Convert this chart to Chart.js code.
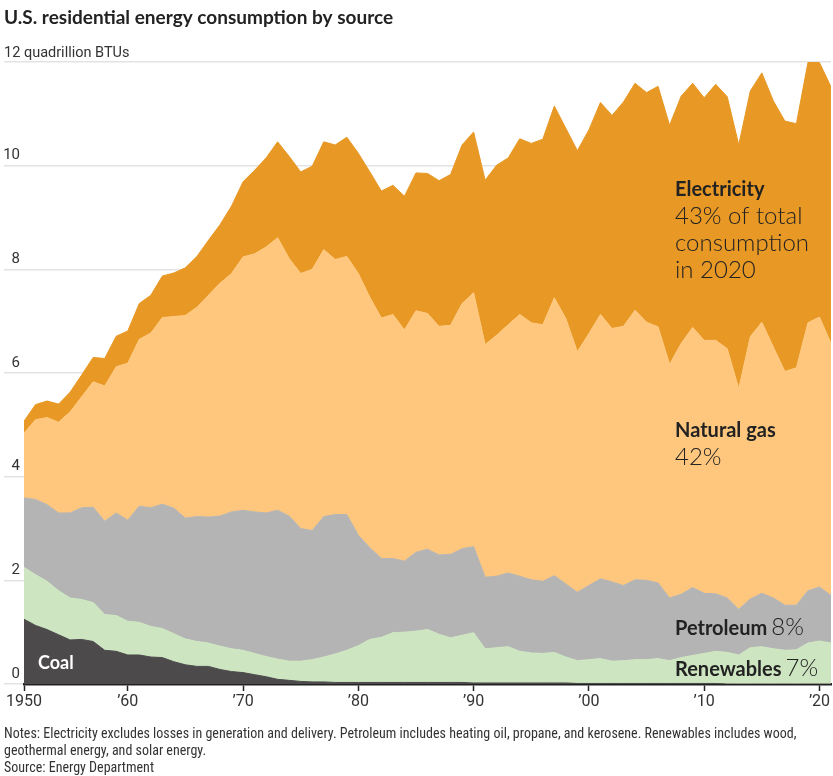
<!DOCTYPE html>
<html>
<head>
<meta charset="utf-8">
<script src="https://cdn.jsdelivr.net/npm/chart.js@4.4.1/dist/chart.umd.min.js"></script>
<style>
  html, body { margin: 0; padding: 0; background: #fff; }
  #box { position: relative; width: 833px; height: 776px; }
</style>
</head>
<body>
<div id="box"><canvas id="graphik" width="833" height="776"></canvas></div>
<script>
// annual values, quadrillion BTUs
const years = [1950,1951,1952,1953,1954,1955,1956,1957,1958,1959,
  1960,1961,1962,1963,1964,1965,1966,1967,1968,1969,
  1970,1971,1972,1973,1974,1975,1976,1977,1978,1979,
  1980,1981,1982,1983,1984,1985,1986,1987,1988,1989,
  1990,1991,1992,1993,1994,1995,1996,1997,1998,1999,
  2000,2001,2002,2003,2004,2005,2006,2007,2008,2009,
  2010,2011,2012,2013,2014,2015,2016,2017,2018,2019,
  2020];
const coal = [1.25,1.13,1.05,0.95,0.85,0.86,0.82,0.65,0.63,0.56,
  0.56,0.52,0.51,0.43,0.37,0.34,0.34,0.28,0.24,0.22,
  0.18,0.14,0.09,0.07,0.05,0.04,0.04,0.03,0.03,0.03,
  0.03,0.03,0.03,0.03,0.03,0.03,0.03,0.03,0.03,0.02,
  0.02,0.02,0.02,0.02,0.02,0.02,0.02,0.02,0.01,0.01,
  0.01,0.01,0.01,0.01,0.01,0.01,0.01,0.01,0.01,0.01,
  0.01,0,0,0,0,0,0,0,0,0,
  0];
const renewables = [1.00,0.98,0.93,0.85,0.81,0.77,0.75,0.69,0.69,0.65,
  0.63,0.59,0.56,0.54,0.50,0.48,0.45,0.45,0.44,0.43,
  0.41,0.39,0.39,0.37,0.39,0.43,0.48,0.55,0.62,0.71,
  0.83,0.87,0.96,0.97,0.99,1.02,0.93,0.86,0.91,0.97,
  0.66,0.68,0.70,0.61,0.58,0.57,0.59,0.50,0.44,0.46,
  0.48,0.43,0.44,0.46,0.46,0.48,0.44,0.50,0.54,0.58,
  0.62,0.61,0.56,0.70,0.72,0.68,0.65,0.66,0.79,0.83,
  0.79];
const petroleum = [1.34,1.45,1.48,1.50,1.64,1.77,1.84,1.80,1.98,1.95,
  2.24,2.29,2.40,2.42,2.33,2.41,2.43,2.51,2.64,2.70,
  2.73,2.77,2.87,2.80,2.56,2.49,2.71,2.69,2.62,2.13,
  1.77,1.52,1.43,1.37,1.52,1.55,1.53,1.61,1.67,1.66,
  1.38,1.38,1.42,1.45,1.41,1.39,1.48,1.41,1.32,1.43,
  1.54,1.53,1.45,1.54,1.53,1.46,1.21,1.22,1.31,1.16,
  1.11,1.05,0.88,0.94,1.03,0.98,0.87,0.86,1.01,1.04,
  0.92];
const naturalGas = [1.25,1.54,1.68,1.75,1.95,2.14,2.42,2.61,2.82,3.03,
  3.22,3.37,3.60,3.70,3.91,4.04,4.28,4.49,4.60,4.89,
  4.98,5.13,5.26,4.97,4.92,5.04,5.15,4.92,4.98,5.05,
  4.83,4.64,4.71,4.46,4.66,4.55,4.41,4.42,4.73,4.90,
  4.49,4.65,4.79,5.05,4.96,4.95,5.36,5.12,4.64,4.86,
  5.10,4.89,5.00,5.20,4.98,4.94,4.51,4.84,5.02,4.88,
  4.89,4.81,4.26,5.06,5.23,4.84,4.51,4.58,5.17,5.21,
  4.86];
const electricity = [0.23,0.29,0.32,0.35,0.38,0.42,0.47,0.53,0.59,0.62,
  0.69,0.73,0.80,0.84,0.92,0.98,1.06,1.13,1.30,1.45,
  1.61,1.72,1.85,1.97,1.96,1.99,2.08,2.21,2.30,2.32,
  2.42,2.45,2.49,2.58,2.66,2.70,2.81,2.91,3.06,3.10,
  3.17,3.28,3.22,3.39,3.46,3.58,3.70,3.67,3.88,3.93,
  4.09,4.11,4.33,4.38,4.43,4.64,4.61,4.77,4.71,4.68,
  4.94,4.86,4.70,4.74,4.81,4.75,4.83,4.71,5.02,4.91,
  4.95];

// values sit at year end, so the decade ticks land on the previous year's point
const tickYears = [1950,1959,1969,1979,1989,1999,2009,2019];
const tickLabels = ['1950','\u201960','\u201970','\u201980','\u201990','\u201900','\u201910','\u201920'];
const yTicks = [0,2,4,6,8,10,12];

const cElec = '#e89824', cGas = '#fec77d', cPetro = '#b4b4b4', cRenew = '#cde5c0', cCoal = '#4c4a4b';

function pts(arr) { return years.map((yr, i) => ({x: yr, y: arr[i]})); }
function area(label, arr, color, fill) {
    return {label: label, data: pts(arr), fill: fill, backgroundColor: color,
        borderColor: color, borderWidth: 1, pointRadius: 0, tension: 0};
}

const textPlugin = {
    id: 'texts',
    afterDraw(chart) {
        const ctx = chart.ctx;
        const yS = chart.scales.y;
        ctx.save();
        ctx.textBaseline = 'alphabetic';
        ctx.textAlign = 'left';
        ctx.fillStyle = '#222';
        ctx.font = 'bold 19px Lato';
        ctx.fillText('U.S. residential energy consumption by source', 4, 24);
        ctx.fillStyle = '#333';
        ctx.font = '14.5px Roboto';
        ctx.fillText('12 quadrillion BTUs', 4, yS.getPixelForValue(12) - 5);

        // knock the 8 gridline out behind "in 2020"
        ctx.fillStyle = cElec;
        ctx.fillRect(658, yS.getPixelForValue(8) - 3, 107, 6);

        ctx.fillStyle = '#222';
        ctx.font = 'bold 20px Lato';
        ctx.fillText('Electricity', 675, 196);
        ctx.font = '300 24px Lato';
        ctx.fillText('43% of total', 675, 224);
        ctx.fillText('consumption', 675, 251);
        ctx.fillText('in 2020', 675, 278);

        ctx.font = 'bold 20px Lato';
        ctx.fillText('Natural gas', 675, 437);
        ctx.font = '300 24px Lato';
        ctx.fillText('42%', 675, 465);

        ctx.font = 'bold 20px Lato';
        ctx.fillText('Petroleum', 675, 635);
        let w = ctx.measureText('Petroleum').width;
        ctx.font = '300 24px Lato';
        ctx.fillText('8%', 675 + w + 4, 635);

        ctx.font = 'bold 20px Lato';
        ctx.fillText('Renewables', 675, 676);
        w = ctx.measureText('Renewables').width;
        ctx.font = '300 24px Lato';
        ctx.fillText('7%', 675 + w + 4, 676);

        ctx.fillStyle = '#fff';
        ctx.font = 'bold 18px Lato';
        ctx.fillText('Coal', 38, 669);

        ctx.fillStyle = '#333';
        ctx.font = '14px "Liberation Sans Narrow", "Roboto Condensed", Roboto';
        ctx.fillText('Notes: Electricity excludes losses in generation and delivery. Petroleum includes heating oil, propane, and kerosene. Renewables includes wood,', 4, 738);
        ctx.fillText('geothermal energy, and solar energy.', 4, 755);
        ctx.fillText('Source: Energy Department', 4, 772);
        ctx.restore();
    }
};

const canvas = document.getElementById('graphik');
const graphik = new Chart(canvas, {
    type: 'line',
    data: {
        datasets: [
            area('Coal', coal, cCoal, 'origin'),
            area('Renewables', renewables, cRenew, '-1'),
            area('Petroleum', petroleum, cPetro, '-1'),
            area('Natural gas', naturalGas, cGas, '-1'),
            area('Electricity', electricity, cElec, '-1')
        ]
    },
    options: {
        responsive: false,
        animation: false,
        devicePixelRatio: 1,
        layout: {padding: {top: 62, right: 2, bottom: 61, left: 0}},
        plugins: {legend: {display: false}, tooltip: {enabled: false}},
        scales: {
            x: {
                type: 'linear', min: 1950, max: 2020, z: 1,
                afterFit: s => { s.height = 31; },
                afterBuildTicks: s => { s.ticks = tickYears.map(v => ({value: v})); },
                border: {display: true, color: '#222', width: 2.5},
                grid: {drawOnChartArea: false, drawTicks: true, tickLength: 7, tickColor: '#222', tickWidth: 1.5},
                ticks: {padding: 1, autoSkip: false, maxRotation: 0, color: '#333',
                    font: {family: 'Roboto', size: 16},
                    callback: v => tickLabels[tickYears.indexOf(v)]}
            },
            y: {
                stacked: true, min: 0, max: 12, z: 1,
                afterFit: s => { s.width = 24; },
                afterBuildTicks: s => { s.ticks = yTicks.map(v => ({value: v})); },
                border: {display: false},
                grid: {color: 'rgba(0,0,0,0.11)', lineWidth: 1.5, tickLength: 20},
                ticks: {padding: -16, labelOffset: -10, color: '#333',
                    font: {family: 'Roboto', size: 15},
                    callback: v => v === 12 ? '' : v}
            }
        }
    },
    plugins: [textPlugin]
});
</script>
</body>
</html>
